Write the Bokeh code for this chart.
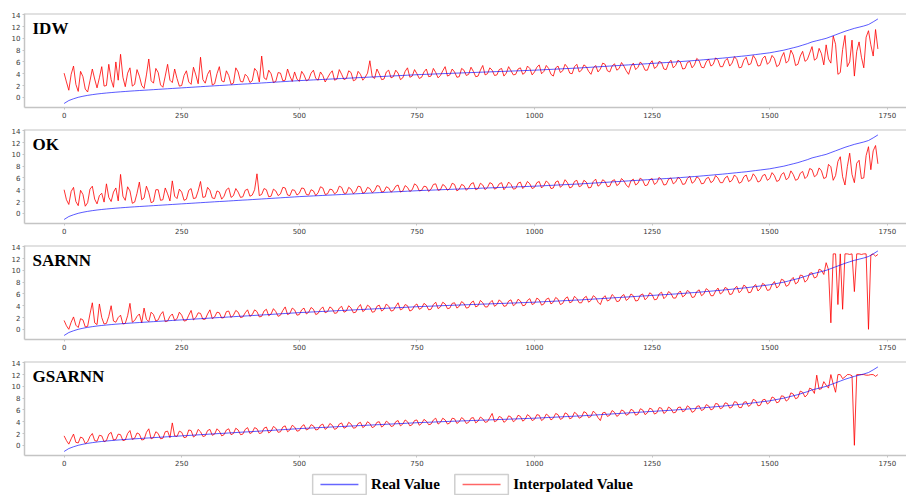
from bokeh.plotting import figure
from bokeh.layouts import column
from bokeh.models import Range1d, FixedTicker, Label, Span
from bokeh.core.properties import value
from bokeh.embed import file_html
from bokeh.resources import INLINE

# ---------------- data ----------------
REAL_STEP = 10     # real values sampled every 10 samples
INTERP_STEP = 5    # interpolated values sampled every 5 samples
panel_names = ["IDW", "OK", "SARNN", "GSARNN"]
x_ticks = [0, 250, 500, 750, 1000, 1250, 1500, 1750]
y_ticks = [0, 2, 4, 6, 8, 10, 12, 14]
legend_labels = ["Real Value", "Interpolated Value"]

real_value = [
    -1.05, -0.55, -0.25, 0.0, 0.18, 0.33, 0.45, 0.56, 0.65, 0.73,
    0.8, 0.87, 0.93, 0.99, 1.05, 1.1, 1.15, 1.2, 1.25, 1.3,
    1.35, 1.4, 1.45, 1.5, 1.55, 1.6, 1.65, 1.7, 1.75, 1.8,
    1.85, 1.9, 1.95, 2.0, 2.04, 2.09, 2.14, 2.19, 2.24, 2.28,
    2.33, 2.38, 2.43, 2.48, 2.53, 2.58, 2.63, 2.68, 2.73, 2.78,
    2.83, 2.87, 2.91, 2.95, 2.99, 3.03, 3.07, 3.11, 3.15, 3.19,
    3.23, 3.27, 3.31, 3.35, 3.39, 3.43, 3.47, 3.51, 3.55, 3.59,
    3.63, 3.67, 3.71, 3.75, 3.79, 3.83, 3.87, 3.9, 3.93, 3.96,
    4.0, 4.03, 4.06, 4.09, 4.12, 4.15, 4.18, 4.21, 4.24, 4.27,
    4.3, 4.33, 4.36, 4.39, 4.42, 4.45, 4.48, 4.51, 4.54, 4.57,
    4.6, 4.64, 4.68, 4.72, 4.76, 4.8, 4.84, 4.88, 4.92, 4.96,
    5.0, 5.05, 5.1, 5.15, 5.2, 5.25, 5.3, 5.35, 5.4, 5.45,
    5.5, 5.55, 5.6, 5.65, 5.7, 5.75, 5.8, 5.85, 5.9, 5.95,
    6.0, 6.06, 6.12, 6.18, 6.24, 6.3, 6.37, 6.44, 6.51, 6.58,
    6.65, 6.73, 6.81, 6.89, 6.97, 7.05, 7.15, 7.25, 7.35, 7.45,
    7.55, 7.7, 7.85, 8.0, 8.2, 8.4, 8.6, 8.85, 9.1, 9.4,
    9.6, 9.8, 10.0, 10.3, 10.6, 10.9, 11.2, 11.45, 11.7, 11.9,
    12.1, 12.35, 12.8, 13.3,
]

idw = [
    4.1, 2.6, 1.2, 3.9, 5.3, 2.2, 1.0, 4.4, 3.5, 1.4, 0.9, 2.8, 4.8, 3.1, 1.6, 3.3, 5.2, 1.9, 2.0, 5.6,
    3.0, 1.7, 6.0, 2.9, 7.3, 3.4, 1.8, 4.1, 5.0, 1.9, 2.2, 4.7, 3.6, 2.0, 1.5, 3.8, 6.5, 2.8, 2.4, 4.9,
    4.2, 2.1, 1.7, 3.6, 5.6, 2.9, 2.5, 4.8, 3.2, 1.9, 2.0, 3.7, 4.5, 2.6, 2.2, 5.1, 3.8, 2.3, 6.8, 3.0,
    2.4, 3.9, 4.6, 2.1, 2.3, 4.0, 5.2, 2.8, 2.6, 4.5, 3.7, 2.2, 2.4, 5.0, 4.3, 2.7, 2.6, 3.9, 3.5, 2.5,
    2.8, 4.9, 4.4, 2.6, 7.0, 3.3, 3.0, 4.6, 4.0, 2.5, 2.7, 4.2, 4.1, 2.8, 2.9, 4.8, 3.6, 2.7, 4.3, 3.1,
    2.7, 4.4, 3.8, 2.8, 3.0, 4.1, 4.6, 3.2, 2.9, 4.3, 3.7, 2.6, 3.3, 4.0, 4.5, 2.9, 3.1, 4.7, 3.9, 3.0,
    3.2, 4.5, 4.2, 2.8, 3.0, 4.4, 3.9, 2.9, 3.4, 4.1, 6.2, 3.5, 3.2, 4.8, 4.0, 3.0, 3.1, 4.3, 4.6, 3.3,
    3.5, 4.6, 4.1, 3.0, 3.3, 4.4, 5.0, 3.4, 3.6, 4.7, 4.0, 3.2, 3.4, 4.3, 4.8, 3.5, 3.6, 4.9, 4.2, 3.3,
    3.7, 4.5, 5.2, 3.6, 3.8, 4.8, 4.3, 3.4, 3.5, 4.9, 4.6, 3.7, 3.9, 5.1, 4.4, 3.5, 3.6, 4.6, 5.4, 3.8,
    4.0, 5.0, 4.6, 3.7, 3.8, 4.7, 4.9, 3.6, 4.1, 5.2, 4.5, 3.8, 3.9, 4.8, 5.0, 3.9, 4.2, 5.3, 4.9, 3.8,
    4.3, 5.1, 5.5, 4.0, 4.4, 5.4, 4.9, 3.9, 3.6, 5.0, 5.3, 4.2, 4.5, 5.6, 5.1, 4.1, 4.0, 5.2, 5.6, 4.3,
    4.6, 5.5, 5.2, 4.4, 3.9, 5.0, 5.4, 4.3, 4.8, 5.8, 5.6, 4.5, 4.3, 5.3, 5.7, 4.6, 4.9, 5.9, 5.3, 4.5,
    3.9, 5.2, 5.8, 4.7, 5.1, 6.0, 5.5, 4.6, 4.6, 5.7, 6.2, 4.9, 5.2, 6.1, 5.9, 4.8, 4.7, 5.8, 6.3, 5.0,
    5.4, 6.3, 6.0, 4.8, 4.9, 5.9, 6.1, 5.0, 5.5, 6.6, 6.2, 5.1, 5.0, 6.0, 6.5, 5.3, 5.6, 6.7, 6.3, 5.2,
    5.2, 6.2, 6.6, 5.3, 5.8, 6.9, 6.4, 5.0, 5.1, 6.3, 6.8, 5.5, 5.7, 7.1, 6.5, 5.3, 5.4, 6.6, 7.0, 5.6,
    6.0, 7.1, 6.6, 5.2, 5.5, 6.8, 7.6, 5.8, 6.2, 8.0, 7.2, 5.4, 5.6, 7.0, 7.8, 6.1, 6.4, 7.5, 8.6, 6.3,
    6.6, 8.3, 7.4, 5.5, 8.9, 6.5, 5.8, 10.4, 9.0, 3.9, 4.2, 8.1, 10.5, 5.2, 6.0, 9.7, 3.6, 7.8, 9.4, 6.8,
    5.0, 10.2, 11.3, 8.9, 7.0, 11.5, 8.2,
]

ok = [
    4.0, 2.3, 1.5, 3.7, 4.4, 2.0, 1.3, 3.9, 3.2, 1.2, 1.8, 4.1, 4.6, 2.4, 1.6, 3.0, 3.4, 1.9, 5.0, 2.7,
    2.0, 3.6, 4.3, 2.1, 6.6, 2.9, 2.2, 4.5, 3.8, 1.7, 1.9, 3.4, 5.3, 2.3, 2.6, 4.6, 3.5, 1.8, 2.0, 4.0,
    4.0, 2.2, 2.3, 4.3, 3.3, 2.1, 5.5, 2.9, 2.5, 4.1, 3.6, 2.2, 2.4, 3.9, 4.2, 2.5, 2.6, 3.8, 5.4, 2.7,
    2.8, 4.4, 3.9, 2.6, 2.5, 3.8, 3.6, 2.4, 2.9, 4.0, 4.3, 2.7, 3.0, 4.2, 3.6, 2.7, 2.8, 3.9, 4.1, 2.9,
    3.1, 4.0, 6.7, 3.0, 3.2, 4.2, 4.0, 2.8, 2.9, 4.1, 3.8, 3.0, 3.3, 4.4, 4.3, 3.1, 3.0, 4.0, 3.9, 3.1,
    3.4, 4.3, 4.2, 3.2, 3.1, 4.0, 3.8, 3.0, 3.5, 4.5, 4.3, 3.2, 3.3, 4.1, 4.0, 3.3, 3.6, 4.6, 4.4, 3.4,
    3.4, 4.4, 4.1, 3.3, 3.7, 4.6, 4.5, 3.4, 3.6, 4.4, 4.2, 3.5, 3.8, 4.7, 4.6, 3.6, 3.7, 4.5, 4.3, 3.6,
    3.9, 4.6, 4.8, 3.6, 3.8, 4.7, 4.4, 3.7, 4.0, 5.0, 4.7, 3.8, 3.9, 4.6, 4.5, 3.7, 4.1, 4.9, 5.0, 3.9,
    4.0, 4.9, 4.6, 3.9, 4.2, 5.1, 4.9, 3.8, 4.1, 4.9, 4.7, 3.9, 4.3, 5.0, 5.2, 4.0, 4.2, 5.1, 4.8, 4.0,
    4.4, 5.2, 5.0, 4.1, 4.3, 5.0, 5.2, 4.0, 4.5, 5.3, 4.9, 4.1, 4.2, 5.1, 5.3, 4.2, 4.6, 5.4, 5.0, 4.2,
    4.4, 5.2, 5.4, 4.3, 4.7, 5.5, 5.1, 4.2, 4.3, 5.3, 5.5, 4.4, 4.8, 5.7, 5.2, 4.3, 4.5, 5.4, 5.6, 4.5,
    4.7, 5.6, 5.3, 4.3, 4.4, 5.4, 5.8, 4.6, 4.9, 5.7, 5.4, 4.5, 4.6, 5.5, 5.7, 4.7, 5.0, 5.9, 5.5, 4.8,
    4.4, 5.5, 5.8, 4.8, 5.1, 6.0, 5.6, 4.7, 4.8, 5.7, 5.9, 4.9, 5.2, 6.1, 5.7, 4.8, 4.9, 5.8, 6.0, 5.0,
    5.3, 6.1, 5.8, 4.9, 5.0, 5.9, 6.3, 5.1, 5.4, 6.2, 5.9, 5.0, 5.1, 5.9, 6.1, 5.2, 5.5, 6.4, 6.0, 5.2,
    5.2, 6.0, 6.3, 5.3, 5.6, 6.5, 6.1, 5.1, 5.3, 6.2, 6.5, 5.4, 5.7, 6.7, 6.2, 5.3, 5.5, 6.4, 6.6, 5.6,
    5.9, 6.9, 6.4, 5.4, 5.6, 6.6, 6.9, 5.7, 6.0, 7.2, 6.6, 5.6, 5.8, 6.8, 7.1, 5.9, 6.3, 7.6, 7.4, 6.2,
    6.5, 7.7, 7.2, 5.9, 6.1, 8.3, 7.9, 5.6, 6.4, 8.8, 9.6, 6.2, 4.8, 7.9, 10.2, 6.6, 5.2, 8.5, 9.0, 5.9,
    6.0, 9.8, 11.3, 7.4, 10.6, 11.5, 8.4,
]

sarnn = [
    1.5, 0.6, 0.0, 1.2, 2.1, 0.7, 0.3, 1.8, 1.6, 0.4, 0.5, 2.6, 4.5, 1.1, 0.8, 4.3, 2.0, 0.9, 1.0, 2.2,
    4.0, 1.4, 1.2, 2.0, 2.4, 0.9, 1.0, 2.3, 4.4, 1.2, 1.5, 2.2, 2.6, 1.1, 3.6, 1.7, 1.3, 2.9, 2.5, 1.4,
    1.6, 2.5, 3.0, 1.3, 1.4, 2.2, 2.6, 1.5, 1.8, 2.9, 2.4, 1.4, 1.5, 2.4, 3.2, 1.6, 2.0, 2.8, 2.7, 1.7,
    1.7, 2.6, 3.3, 1.8, 2.1, 2.9, 2.8, 1.9, 2.0, 3.0, 3.1, 2.0, 2.4, 3.2, 2.9, 2.0, 2.1, 2.8, 3.3, 2.2,
    2.5, 3.3, 3.0, 2.1, 2.2, 3.1, 3.4, 2.3, 2.6, 3.5, 3.0, 2.2, 2.4, 3.2, 3.8, 2.5, 2.7, 3.6, 3.3, 2.4,
    2.5, 3.3, 3.6, 2.6, 2.9, 3.7, 3.4, 2.5, 2.7, 3.4, 3.8, 2.8, 3.0, 3.8, 3.5, 2.7, 2.8, 3.6, 3.9, 2.9,
    3.1, 4.0, 3.6, 2.8, 2.9, 3.7, 4.2, 3.0, 3.3, 4.1, 3.8, 2.9, 3.0, 3.9, 4.1, 3.1, 3.4, 4.3, 3.9, 3.1,
    3.2, 3.9, 4.5, 3.3, 3.5, 4.2, 4.0, 3.1, 3.3, 4.0, 4.3, 3.4, 3.6, 4.4, 4.1, 3.3, 3.4, 4.2, 4.6, 3.5,
    3.8, 4.6, 4.3, 3.5, 3.6, 4.4, 4.5, 3.6, 3.9, 4.7, 4.4, 3.6, 3.7, 4.5, 4.8, 3.8, 4.0, 4.9, 4.5, 3.8,
    3.8, 4.5, 4.9, 3.9, 4.2, 5.0, 4.6, 3.9, 4.0, 4.8, 5.0, 4.0, 4.3, 5.1, 4.8, 4.0, 4.1, 4.9, 5.2, 4.2,
    4.4, 5.3, 5.0, 4.1, 4.3, 5.1, 5.3, 4.3, 4.6, 5.4, 5.1, 4.2, 4.4, 5.2, 5.5, 4.5, 4.7, 5.6, 5.2, 4.5,
    4.5, 5.3, 5.6, 4.6, 4.9, 5.7, 5.4, 4.6, 4.2, 5.3, 5.7, 4.8, 5.0, 5.9, 5.5, 4.7, 4.8, 5.6, 5.9, 4.9,
    5.2, 6.0, 5.7, 4.8, 4.9, 5.8, 6.0, 5.0, 5.4, 6.2, 5.9, 5.0, 5.1, 6.0, 6.3, 5.2, 5.6, 6.4, 6.1, 5.3,
    5.3, 6.1, 6.5, 5.5, 5.8, 6.6, 6.3, 5.4, 5.5, 6.4, 6.7, 5.7, 6.0, 6.9, 6.6, 5.7, 5.7, 6.5, 7.0, 6.0,
    6.3, 7.1, 6.9, 5.9, 6.0, 6.9, 7.3, 6.2, 6.6, 7.5, 7.2, 6.2, 6.3, 7.2, 7.6, 6.5, 6.9, 7.8, 7.5, 6.6,
    6.7, 7.6, 8.1, 7.0, 7.4, 8.5, 8.3, 7.3, 7.5, 8.4, 8.8, 7.7, 8.0, 9.2, 9.1, 8.0, 8.4, 9.5, 9.6, 8.7,
    8.9, 10.2, 10.0, 9.3, 11.3, 10.1, 1.1, 12.8, 12.8, 4.2, 12.8, 3.4, 12.8, 12.8, 12.7, 12.8, 6.4, 12.8, 12.8, 12.7,
    12.8, 12.8, 0.0, 12.6, 12.8, 12.4, 12.7,
]

gsarnn = [
    1.6, 0.8, 0.2, 1.1, 1.9, 0.5, 0.4, 1.4, 1.2, 0.3, 0.6, 1.5, 2.0, 0.8, 0.7, 1.7, 1.6, 0.6, 0.8, 1.9,
    2.2, 0.9, 1.0, 1.9, 1.8, 0.8, 0.9, 2.0, 2.5, 1.0, 1.2, 2.1, 1.9, 0.9, 1.0, 2.2, 2.8, 1.1, 1.3, 2.3,
    2.0, 1.1, 1.2, 2.3, 2.4, 1.3, 3.8, 1.6, 1.5, 2.4, 2.2, 1.3, 1.4, 2.6, 2.5, 1.4, 1.7, 2.7, 2.3, 1.5,
    1.6, 2.5, 2.7, 1.7, 1.9, 2.8, 2.4, 1.6, 1.8, 2.6, 2.8, 1.8, 2.0, 2.9, 2.6, 1.8, 1.9, 2.7, 3.0, 2.0,
    2.2, 3.0, 2.8, 2.0, 2.1, 2.9, 3.1, 2.1, 2.4, 3.2, 2.9, 2.2, 2.3, 3.1, 3.3, 2.3, 2.6, 3.4, 3.1, 2.4,
    2.5, 3.2, 3.5, 2.6, 2.8, 3.5, 3.3, 2.6, 2.7, 3.4, 3.6, 2.7, 3.0, 3.7, 3.4, 2.7, 2.9, 3.6, 3.8, 2.9,
    3.1, 3.9, 3.6, 2.9, 3.0, 3.7, 3.9, 3.0, 3.3, 4.0, 3.7, 3.0, 3.2, 3.9, 4.0, 3.1, 3.4, 4.1, 3.8, 3.2,
    3.3, 4.0, 4.2, 3.3, 3.6, 4.3, 4.0, 3.3, 3.5, 4.2, 4.3, 3.4, 3.7, 4.4, 4.1, 3.5, 3.6, 4.3, 4.6, 3.6,
    3.9, 4.6, 4.3, 3.6, 3.8, 4.6, 4.5, 3.7, 4.0, 4.7, 4.4, 3.7, 3.9, 4.6, 4.7, 3.8, 4.1, 4.8, 4.5, 3.9,
    4.0, 4.7, 5.4, 4.0, 4.2, 4.9, 4.7, 3.9, 4.2, 5.0, 4.8, 4.0, 4.3, 5.1, 4.9, 4.1, 4.4, 5.2, 4.9, 4.2,
    4.4, 5.2, 5.1, 4.2, 4.5, 5.3, 5.0, 4.3, 4.6, 5.4, 5.2, 4.4, 4.6, 5.5, 5.3, 4.5, 4.7, 5.6, 5.3, 4.6,
    4.8, 5.7, 5.5, 4.7, 4.9, 5.8, 5.4, 4.7, 4.2, 5.5, 5.6, 4.9, 5.1, 5.9, 5.6, 4.9, 5.2, 6.0, 5.8, 5.1,
    5.3, 6.1, 5.9, 5.1, 5.3, 6.2, 6.0, 5.2, 5.5, 6.3, 6.1, 5.3, 5.5, 6.4, 6.3, 5.4, 5.7, 6.5, 6.2, 5.5,
    5.6, 6.4, 6.5, 5.7, 5.9, 6.7, 6.4, 5.6, 5.8, 6.6, 6.7, 5.9, 6.1, 6.9, 6.7, 6.0, 6.2, 7.1, 7.0, 6.2,
    6.4, 7.2, 7.1, 6.3, 6.5, 7.4, 7.3, 6.4, 6.4, 7.3, 7.4, 6.6, 6.9, 7.8, 7.6, 6.7, 6.8, 7.7, 7.8, 7.0,
    7.3, 8.2, 8.0, 7.2, 7.4, 8.4, 8.3, 7.5, 7.8, 8.9, 8.7, 7.9, 8.1, 9.2, 9.0, 8.2, 8.6, 9.7, 9.5, 8.8,
    11.9, 9.5, 9.6, 10.8, 10.2, 9.7, 12.0, 10.4, 9.0, 12.0, 12.0, 11.3, 11.6, 12.0, 12.0, 11.8, 0.0, 12.0, 12.0, 12.0,
    12.0, 11.9, 11.9, 12.0, 12.0, 11.7, 12.0,
]

interpolated = [idw, ok, sarnn, gsarnn]

# ---------------- styling ----------------
W = 906
FIRST_H = 121
PANEL_H = 116
LEGEND_H = 26
FRAME_GRAY = "#c4c4c4"
TICK_COLOR = "#3a3a3a"
RED = "#ff0000"
BLUE = "#0000ff"
SERIF = "Liberation Serif"

X0, X1 = -84.2, 1790.8
Y0, Y1 = -1.73, 14.22


def idx(series, step):
    return [i * step for i in range(len(series))]


def make_panel(name, series, height, top):
    p = figure(width=W, height=height, output_backend="svg", toolbar_location=None,
               x_range=Range1d(X0, X1), y_range=Range1d(Y0, Y1),
               min_border_left=24, min_border_right=0, min_border_top=top,
               min_border_bottom=14)
    p.outline_line_color = None
    p.background_fill_color = "white"
    p.border_fill_color = "white"
    p.grid.visible = False

    p.line(idx(series, INTERP_STEP), series, line_color=RED, line_width=0.9, line_alpha=0.9)
    p.line(idx(real_value, REAL_STEP), real_value, line_color=BLUE, line_width=1, line_alpha=0.65)

    for ax in (p.xaxis[0], p.yaxis[0]):
        ax.axis_line_color = FRAME_GRAY
        ax.axis_line_width = 1.5
        ax.major_tick_line_color = FRAME_GRAY
        ax.major_tick_out = 2
        ax.major_tick_in = 0
        ax.minor_tick_line_color = None
        ax.major_label_text_font = "DejaVu Sans"
        ax.major_label_text_font_size = "7px"
        ax.major_label_text_color = TICK_COLOR
        ax.major_label_standoff = 2
    p.xaxis[0].ticker = FixedTicker(ticks=x_ticks)
    p.yaxis[0].ticker = FixedTicker(ticks=y_ticks)

    p.add_layout(Span(location=Y1, dimension="width", line_color=FRAME_GRAY, line_width=2))

    p.add_layout(Label(x=X0 + 17, y=Y1 - 1.0, text=name, text_baseline="top",
                       text_align="left", text_font=SERIF, text_font_style="bold",
                       text_font_size="17px", text_color="black"))
    return p


panels = []
for k, (n, s) in enumerate(zip(panel_names, interpolated)):
    if k == 0:
        panels.append(make_panel(n, s, FIRST_H, 13))
    else:
        panels.append(make_panel(n, s, PANEL_H, 8))

# ---------------- legend strip ----------------
leg = figure(width=W, height=LEGEND_H, output_backend="svg", toolbar_location=None,
             x_range=Range1d(0, W), y_range=Range1d(0, LEGEND_H),
             x_axis_type=None, y_axis_type=None,
             min_border=0, min_border_left=0, min_border_right=0,
             min_border_top=0, min_border_bottom=0)
leg.grid.visible = False
leg.outline_line_color = None
leg.background_fill_color = "white"
leg.border_fill_color = "white"

box_left = [296, 442]
box_w = 55
colors = [BLUE, RED]
text_x = [356, 502]
for bl, c, tx, lab in zip(box_left, colors, text_x, legend_labels):
    leg.quad(left=[bl], right=[bl + box_w], bottom=[1], top=[21],
             fill_color=None, line_color="#cfcfcf", line_width=1.5)
    leg.line([bl + 8, bl + 47], [11, 11], line_color=c, line_width=1.5, line_alpha=0.6)
    leg.add_layout(Label(x=tx, y=12, text=lab, text_font=SERIF, text_font_style="bold",
                         text_font_size="15px", text_color="black", text_baseline="middle",
                         text_align="left"))

layout = column(*panels, leg, spacing=0)

open("out.html", "w").write(file_html(layout, INLINE))
